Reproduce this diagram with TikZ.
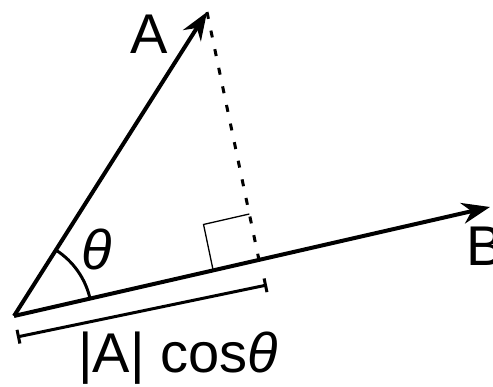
\documentclass[tikz,border=0pt]{standalone}
\usepackage{fontspec}
\setmainfont{Liberation Sans}
\usetikzlibrary{arrows.meta,calc}

\begin{document}
\begin{tikzpicture}[
  x=1pt, y=1pt,
  font=\fontsize{56}{60}\selectfont,
  vec/.style={line width=4pt, -{Stealth[length=28pt, width=21pt]}},
  proj/.style={line width=3pt, dash pattern=on 7pt off 12pt},
  rightang/.style={line width=1.3pt},
  measure/.style={line width=3pt, {Bar[width=14pt]}-{Bar[width=14pt]}},
  lbl/.style={inner sep=0pt}
]
\useasboundingbox (0,0) rectangle (493,387);

\coordinate (O) at (14,71);
\coordinate (Atip) at (207,375);
\coordinate (Btip) at (490,180);
\coordinate (foot) at (259,127);

\draw[vec] (O) -- (Atip);
\draw[vec] (O) -- (Btip);
\draw[proj] (Atip) -- (foot);

% right angle mark
\coordinate (sq1) at ($(foot)!47pt!(O)$);
\coordinate (sq2) at ($(foot)!47pt!(Atip)$);
\draw[rightang] (sq1) -- ($(sq1)+(sq2)-(foot)$) -- (sq2);

% angle
\draw[line width=3pt] ($(O)!78pt!(Btip)$) arc[start angle=12.8, end angle=57.6, radius=78];

% length of projection
\coordinate (m1) at (17,50);
\coordinate (m2) at (267,102);
\draw[measure] (m1) -- (m2);

\node[lbl] (labA) at (149,353) {A};
\node[lbl, anchor=west] (labB) at (466,141) {B};
\node[lbl] (labth) at (97,138) {\itshape θ};
\node[lbl] (labproj) at (178,29) {|A| cos\textit{θ}};
\end{tikzpicture}
\end{document}
